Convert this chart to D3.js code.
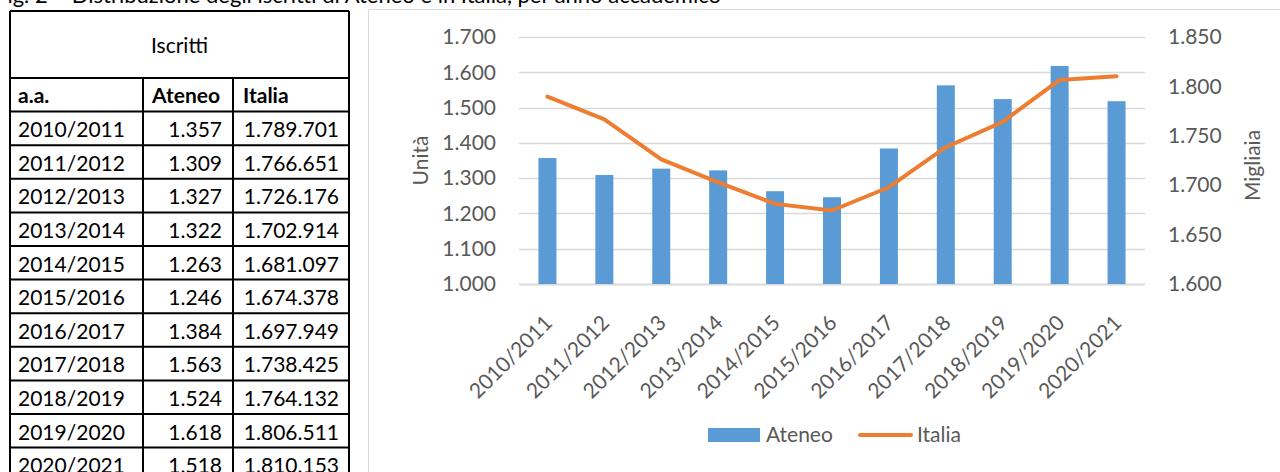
<!DOCTYPE html>
<html>
<head>
<meta charset="utf-8">
<script src="https://cdn.jsdelivr.net/npm/d3@7"></script>
<style>
  body { margin: 0; background: #fff; }
  svg { display: block; font-family: Lato, 'Open Sans', sans-serif; }
</style>
</head>
<body>
<svg id="chart"></svg>
<script>
const years = ['2010/2011', '2011/2012', '2012/2013', '2013/2014', '2014/2015', '2015/2016',
  '2016/2017', '2017/2018', '2018/2019', '2019/2020', '2020/2021'];
const ateneo = [1357, 1309, 1327, 1322, 1263, 1246, 1384, 1563, 1524, 1618, 1518];
const italia = [1789701, 1766651, 1726176, 1702914, 1681097, 1674378, 1697949, 1738425,
  1764132, 1806511, 1810153];
const leftTicks = [1000, 1100, 1200, 1300, 1400, 1500, 1600, 1700];
const rightTicks = [1600, 1650, 1700, 1750, 1800, 1850];
const title = 'Fig. 2 – Distribuzione degli iscritti di Ateneo e in Italia, per anno accademico';

const svgWidth = 1280;
const svgHeight = 472;
const blue = '#5B9BD5';
const orange = '#ED7D31';
const grey = '#595959';

const it = d3.formatLocale({ decimal: ',', thousands: '.', grouping: [3], currency: ['€', ''] });
const fmt = it.format(',d');

const svg = d3.select('#chart')
  .attr('width', svgWidth)
  .attr('height', svgHeight);

// title, cut by the top edge as in the source page
svg.append('text')
  .attr('x', -5)
  .attr('y', 3)
  .attr('font-size', 22)
  .attr('fill', '#000')
  .text(title);

// table
const cols = [10, 143, 233, 349];
const tableTop = 11;
const headBottom = 78;
const rowH = 33.6;
const rowTop = i => headBottom + i * rowH;
const table = svg.append('g').attr('font-size', 21).attr('fill', '#000');

table.append('text')
  .attr('x', (cols[0] + cols[3]) / 2)
  .attr('y', 53)
  .attr('text-anchor', 'middle')
  .text('Iscritti');

const head = table.append('g').attr('font-weight', 'bold');
head.append('text').attr('x', cols[0] + 8).attr('y', rowTop(0) + 25).text('a.a.');
head.append('text').attr('x', cols[1] + 9).attr('y', rowTop(0) + 25).text('Ateneo');
head.append('text').attr('x', cols[2] + 10).attr('y', rowTop(0) + 25).text('Italia');

const rows = table.selectAll('g.row')
  .data(years)
  .enter()
  .append('g')
  .attr('class', 'row')
  .attr('transform', (d, i) => `translate(0,${rowTop(i + 1) + 25.5})`);

rows.append('text').attr('x', cols[0] + 8).text(d => d);
rows.append('text').attr('x', cols[2] - 11).attr('text-anchor', 'end').text((d, i) => fmt(ateneo[i]));
rows.append('text').attr('x', cols[3] - 10).attr('text-anchor', 'end').text((d, i) => fmt(italia[i]));

const lines = table.append('g').attr('stroke', '#000').attr('stroke-width', 2);
lines.append('line').attr('x1', cols[0]).attr('x2', cols[3]).attr('y1', tableTop).attr('y2', tableTop);
lines.selectAll('line.h')
  .data(d3.range(years.length + 1))
  .enter()
  .append('line')
  .attr('class', 'h')
  .attr('x1', cols[0])
  .attr('x2', cols[3])
  .attr('y1', i => rowTop(i))
  .attr('y2', i => rowTop(i));
lines.selectAll('line.v')
  .data(cols)
  .enter()
  .append('line')
  .attr('class', 'v')
  .attr('x1', d => d)
  .attr('x2', d => d)
  .attr('y1', (d, i) => (i === 0 || i === 3 ? tableTop : headBottom))
  .attr('y2', svgHeight + 10);

// chart frame
svg.append('rect')
  .attr('x', 368.5)
  .attr('y', 9.5)
  .attr('width', 1000)
  .attr('height', 600)
  .attr('fill', 'none')
  .attr('stroke', '#d9d9d9');

const plot = { left: 519, right: 1145, top: 37, bottom: 284 };

const x = d3.scaleBand()
  .domain(years)
  .range([plot.left, plot.right])
  .paddingInner(0.684)
  .paddingOuter(0.342);

const yL = d3.scaleLinear().domain([1000, 1700]).range([plot.bottom, plot.top]);
const yR = d3.scaleLinear().domain([1600, 1850]).range([plot.bottom, plot.top]);

// gridlines
svg.append('g')
  .selectAll('line')
  .data(leftTicks)
  .enter()
  .append('line')
  .attr('x1', plot.left)
  .attr('x2', plot.right)
  .attr('y1', d => Math.round(yL(d)) + 0.5)
  .attr('y2', d => Math.round(yL(d)) + 0.5)
  .attr('stroke', '#d9d9d9')
  .attr('stroke-width', d => (d === 1000 ? 2 : 1.5));

// left axis
svg.append('g')
  .attr('transform', `translate(${plot.left},0)`)
  .call(d3.axisLeft(yL).tickValues(leftTicks).tickFormat(fmt).tickSize(0).tickPadding(23))
  .call(g => g.select('.domain').remove())
  .selectAll('text')
  .attr('font-family', 'Lato, sans-serif')
  .attr('font-size', 21)
  .attr('fill', grey);

// right axis
svg.append('g')
  .attr('transform', `translate(${plot.right},0)`)
  .call(d3.axisRight(yR).tickValues(rightTicks).tickFormat(fmt).tickSize(0).tickPadding(23))
  .call(g => g.select('.domain').remove())
  .selectAll('text')
  .attr('font-family', 'Lato, sans-serif')
  .attr('font-size', 21)
  .attr('fill', grey);

// bars
svg.append('g')
  .attr('fill', blue)
  .selectAll('rect')
  .data(years)
  .enter()
  .append('rect')
  .attr('x', d => x(d))
  .attr('y', (d, i) => yL(ateneo[i]))
  .attr('width', x.bandwidth())
  .attr('height', (d, i) => yL(1000) - yL(ateneo[i]));

// Italia line (migliaia)
const line = d3.line()
  .x((d, i) => x(years[i]) + x.bandwidth() / 2)
  .y(d => yR(d / 1000));

svg.append('path')
  .datum(italia)
  .attr('d', line)
  .attr('fill', 'none')
  .attr('stroke', orange)
  .attr('stroke-width', 4)
  .attr('stroke-linejoin', 'round')
  .attr('stroke-linecap', 'round');

// x labels
svg.append('g')
  .attr('font-size', 21)
  .attr('fill', grey)
  .selectAll('text')
  .data(years)
  .enter()
  .append('text')
  .attr('text-anchor', 'end')
  .attr('dy', '0.35em')
  .attr('transform', d => `translate(${x(d) + x.bandwidth() / 2 + 1},${plot.bottom + 35}) rotate(-45)`)
  .text(d => d);

// axis titles
svg.append('text')
  .attr('transform', `translate(428,${(plot.top + plot.bottom) / 2}) rotate(-90)`)
  .attr('text-anchor', 'middle')
  .attr('font-size', 21)
  .attr('fill', grey)
  .text('Unità');

svg.append('text')
  .attr('transform', `translate(1260,${(plot.top + plot.bottom) / 2 + 5}) rotate(-90)`)
  .attr('text-anchor', 'middle')
  .attr('font-size', 21)
  .attr('fill', grey)
  .text('Migliaia');

// legend
const legend = svg.append('g').attr('font-size', 21).attr('fill', grey);
legend.append('rect')
  .attr('x', 708)
  .attr('y', 428)
  .attr('width', 52)
  .attr('height', 14)
  .attr('fill', blue);
legend.append('text').attr('x', 766).attr('y', 435).attr('dy', '0.35em').text('Ateneo');
legend.append('line')
  .attr('x1', 860)
  .attr('x2', 911)
  .attr('y1', 435)
  .attr('y2', 435)
  .attr('stroke', orange)
  .attr('stroke-width', 4)
  .attr('stroke-linecap', 'round');
legend.append('text').attr('x', 917).attr('y', 435).attr('dy', '0.35em').text('Italia');
</script>
</body>
</html>
